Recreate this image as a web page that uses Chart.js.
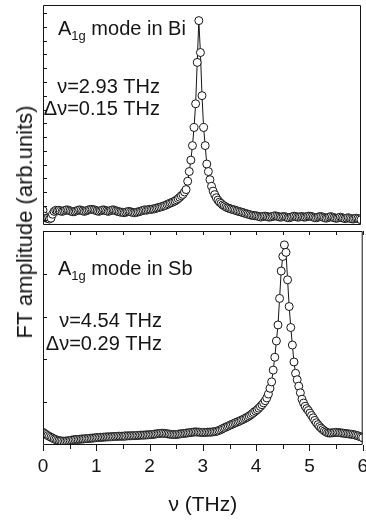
<!DOCTYPE html>
<html><head><meta charset="utf-8">
<script src="https://cdn.jsdelivr.net/npm/chart.js@4.4.1/dist/chart.umd.min.js"></script>
<style>
html,body{margin:0;padding:0;background:#fff;overflow:hidden;width:366px;height:523px;}
#wrap{position:relative;width:366px;height:523px;overflow:hidden;font-family:"Liberation Sans",Arial,sans-serif;color:#151515;}
canvas{position:absolute;left:0;}
.lbl{position:absolute;white-space:nowrap;font-size:20px;line-height:20px;}
.lbl .sb{font-size:13px;position:relative;top:5px;}
.r{text-align:right;}
#ytitle{position:absolute;left:25px;top:222px;font-size:22px;line-height:22px;white-space:nowrap;transform:translate(-50%,-50%) rotate(-90deg);}
</style></head>
<body><div id="wrap">
<canvas id="c1" width="366" height="230" style="top:0;width:366px;height:230px"></canvas>
<canvas id="c2" width="372" height="297" style="top:226px;width:372px;height:297px"></canvas>
<div class="lbl" style="left:58px;top:18px">A<span class="sb">1g</span> mode in Bi</div>
<div class="lbl r" style="right:206px;top:76px">ν=2.93 THz</div>
<div class="lbl r" style="right:206px;top:98px">Δν=0.15 THz</div>
<div class="lbl" style="left:58px;top:258px">A<span class="sb">1g</span> mode in Sb</div>
<div class="lbl r" style="right:204px;top:310px">ν=4.54 THz</div>
<div class="lbl r" style="right:204px;top:333px">Δν=0.29 THz</div>
<div id="ytitle">FT amplitude (arb.units)</div>
</div>
<script>
// Frequency bins (THz)
const freqTHz = [0,0.03,0.06,0.09,0.12,0.15,0.18,0.21,0.24,0.27,0.3,0.33,0.36,0.39,0.42,0.45,0.48,0.51,0.54,0.57,0.6,0.63,0.66,0.69,0.72,0.75,0.78,0.81,0.84,0.87,0.9,0.93,0.96,0.99,1.02,1.05,1.08,1.11,1.14,1.17,1.2,1.23,1.26,1.29,1.32,1.35,1.38,1.41,1.44,1.47,1.5,1.53,1.56,1.59,1.62,1.65,1.68,1.71,1.74,1.77,1.8,1.83,1.86,1.89,1.92,1.95,1.98,2.01,2.04,2.07,2.1,2.13,2.16,2.19,2.22,2.25,2.28,2.31,2.34,2.37,2.4,2.43,2.46,2.49,2.52,2.55,2.58,2.61,2.64,2.67,2.7,2.73,2.76,2.79,2.82,2.85,2.88,2.91,2.94,2.97,3,3.03,3.06,3.09,3.12,3.15,3.18,3.21,3.24,3.27,3.3,3.33,3.36,3.39,3.42,3.45,3.48,3.51,3.54,3.57,3.6,3.63,3.66,3.69,3.72,3.75,3.78,3.81,3.84,3.87,3.9,3.93,3.96,3.99,4.02,4.05,4.08,4.11,4.14,4.17,4.2,4.23,4.26,4.29,4.32,4.35,4.38,4.41,4.44,4.47,4.5,4.53,4.56,4.59,4.62,4.65,4.68,4.71,4.74,4.77,4.8,4.83,4.86,4.89,4.92,4.95,4.98,5.01,5.04,5.07,5.1,5.13,5.16,5.19,5.22,5.25,5.28,5.31,5.34,5.37,5.4,5.43,5.46,5.49,5.52,5.55,5.58,5.61,5.64,5.67,5.7,5.73,5.76,5.79,5.82,5.85,5.88,5.91,5.94,5.97,6];

// A1g mode in Bi (arb. units)
const biAmp = [6.7,4.0,3.1,3.1,2.7,3.1,4.9,6.2,6.7,
6.4,6.7,6.4,6.2,6.4,6.7,6.9,6.7,
6.4,6.2,6.0,6.2,6.4,6.7,6.9,6.7,6.4,6.2,6.4,6.7,6.9,7.1,
7.1,6.9,6.7,6.4,6.2,6.4,6.7,6.9,6.7,6.4,
6.2,6.4,6.7,6.9,6.7,6.4,6.2,6.0,5.8,5.8,
5.6,5.8,6.0,6.2,6.0,5.8,5.6,5.6,5.8,6.0,6.2,6.4,
6.7,6.9,6.7,6.9,
7.1,7.1,7.3,7.3,7.6,7.8,8.0,8.2,8.4,8.7,8.9,9.3,9.6,10.0,10.2,10.6,10.9,11.4,12.0,12.6,13.3,13.9,15.0,16.1,
19.9,24.3,29.5,36.1,44.3,55.1,73.9,92.9,
78.4,58.8,44.3,36.1,27.7,24.3,20.6,17.6,15.4,
13.8,12.4,11.3,10.4,9.8,9.1,8.7,8.2,7.8,7.6,7.3,7.1,6.9,6.7,6.4,6.2,6.0,5.8,5.6,5.3,5.1,4.9,4.7,4.4,4.4,4.2,4.2,4.0,
3.8,3.6,3.8,4.0,4.0,3.8,3.6,3.6,3.8,4.0,
4.2,4.0,3.8,3.6,3.6,3.8,3.8,3.6,3.3,3.3,
3.6,3.8,4.0,3.8,3.6,3.6,3.8,3.8,3.6,3.6,
3.8,4.0,4.0,3.8,3.6,3.3,3.3,3.6,3.8,3.8,
3.6,3.3,3.1,3.3,3.6,3.8,3.6,3.3,3.1,3.1,
3.3,3.6,3.3,3.1,2.9,3.1,3.3,3.1,2.9,2.7,
2.9,3.1,2.9,2.7,2.4];

// A1g mode in Sb (arb. units)
const sbAmp = [5.9,5.4,4.9,4.4,4.0,3.6,3.2,2.8,2.5,2.2,2.0,
1.9,1.8,1.8,1.8,1.9,2.0,2.1,2.3,2.4,2.5,
2.6,2.6,2.7,2.8,2.8,2.9,3.0,3.0,3.1,3.2,3.2,3.3,3.4,
3.5,3.5,3.6,3.6,3.7,3.7,3.8,3.8,3.8,3.9,3.9,4.0,4.0,4.1,4.1,4.1,4.1,
4.2,4.2,4.3,4.3,4.3,4.4,4.4,4.4,4.5,4.5,4.6,4.6,4.6,4.7,4.7,4.8,4.8,
4.9,5.0,5.1,5.2,5.3,5.4,5.5,5.5,5.4,5.3,5.2,
5.1,5.0,4.9,4.9,4.9,5.0,5.1,5.2,
5.3,5.4,5.5,5.6,5.7,5.8,5.9,6.0,6.1,6.1,6.0,6.0,5.9,
5.9,5.9,5.9,6.0,6.0,6.0,6.1,6.2,6.3,6.5,
6.8,7.1,7.5,7.9,8.2,8.6,8.9,9.3,9.6,9.9,10.3,10.6,10.9,11.2,11.6,11.9,12.3,12.7,13.1,13.6,14.1,14.7,15.3,15.9,16.5,17.2,18.0,18.8,19.7,20.7,22.0,23.8,26.5,29.5,35.0,41.0,48.6,56.1,68.5,81.3,88.1,93.5,
90.0,77.2,64.7,54.9,46.7,38.8,33.5,30.5,27.5,24.4,21.4,19.6,18.1,17.0,16.1,14.9,13.8,12.7,11.5,10.4,9.5,8.6,7.9,7.2,6.6,6.1,5.7,
5.6,5.6,5.7,5.8,5.9,5.9,5.8,5.7,5.6,5.5,
5.4,5.3,5.2,5.1,5.0,4.9,4.7,4.5,4.3,4.0,3.7,3.4];

const xTickLabels = [0,1,2,3,4,5,6];
const xMinorTicks = [0.5,1.5,2.5,3.5,4.5,5.5];
const topYTicks = [2.5,8.75,15,21.25,27.5,33.75,40,46.25,52.5,58.75,65,71.25,77.5,83.75,90,96.25];
const botYTicks = [20,40,60,80];

Chart.defaults.font.family = '"Liberation Sans", Arial, sans-serif';
Chart.defaults.color = '#151515';

const INK = '#151515';

const framePlugin = {
  id: 'frame',
  afterDraw(chart, args, o) {
    const {ctx, chartArea: a, scales} = chart;
    ctx.save();
    ctx.strokeStyle = INK; ctx.lineWidth = 1;
    const L = a.left + 0.5, R = a.right - 0.5, T = a.top + 0.5, B = a.bottom - 0.5;
    ctx.beginPath();
    ctx.moveTo(L, T); ctx.lineTo(R, T); ctx.lineTo(R, B); ctx.lineTo(L, B); ctx.closePath();
    ctx.stroke();
    ctx.beginPath();
    (o.yTicks || []).forEach(v => {
      const y = Math.round(scales.y.getPixelForValue(v)) + 0.5;
      ctx.moveTo(a.left, y); ctx.lineTo(a.left + 4, y);
    });
    if (o.topXTicks) {
      [...xTickLabels, ...xMinorTicks].forEach(v => {
        const x = Math.round(scales.x.getPixelForValue(v)) + 0.5;
        ctx.moveTo(x, a.top); ctx.lineTo(x, a.top + 4);
      });
    }
    if (o.bottomXTicks) {
      xTickLabels.forEach(v => {
        const x = Math.round(scales.x.getPixelForValue(v)) + 0.5;
        ctx.moveTo(x, a.bottom); ctx.lineTo(x, a.bottom + 6);
      });
      xMinorTicks.forEach(v => {
        const x = Math.round(scales.x.getPixelForValue(v)) + 0.5;
        ctx.moveTo(x, a.bottom); ctx.lineTo(x, a.bottom + 4);
      });
    }
    ctx.stroke();
    ctx.restore();
  }
};

function ds(values) {
  return {
    data: freqTHz.map((f, i) => ({x: f, y: values[i]})),
    borderColor: INK,
    borderWidth: 1,
    pointRadius: 4,
    pointBorderWidth: 1,
    pointBorderColor: INK,
    pointBackgroundColor: '#ffffff',
    tension: 0,
    clip: 0
  };
}

new Chart(document.getElementById('c1'), {
  type: 'line',
  data: {datasets: [ds(biAmp)]},
  options: {
    responsive: false, animation: false,
    layout: {padding: {left: 43, right: 2, top: 3, bottom: 2}},
    plugins: {legend: {display: false}, tooltip: {enabled: false}, frame: {yTicks: topYTicks}},
    scales: {
      x: {type: 'linear', min: 0, max: 6, display: false},
      y: {min: 0, max: 100, display: false}
    }
  },
  plugins: [framePlugin]
});

new Chart(document.getElementById('c2'), {
  type: 'line',
  data: {datasets: [ds(sbAmp)]},
  options: {
    responsive: false, animation: false,
    layout: {padding: {left: 43, right: 8, top: 2, bottom: 3}},
    plugins: {legend: {display: false}, tooltip: {enabled: false}, frame: {yTicks: botYTicks, topXTicks: true, bottomXTicks: true}},
    scales: {
      x: {
        type: 'linear', min: 0, max: 6,
        afterBuildTicks: s => { s.ticks = xTickLabels.map(v => ({value: v})); },
        ticks: {font: {size: 19}, padding: 4, color: INK, maxRotation: 0, autoSkip: false},
        grid: {display: true, drawOnChartArea: false, drawTicks: true, tickLength: 6, tickColor: 'rgba(0,0,0,0)'},
        border: {display: false},
        title: {display: true, text: 'ν (THz)', font: {size: 21}, color: INK, padding: {top: 11, bottom: 2}}
      },
      y: {min: 0, max: 100, display: false}
    }
  },
  plugins: [framePlugin]
});
</script>
</body></html>
